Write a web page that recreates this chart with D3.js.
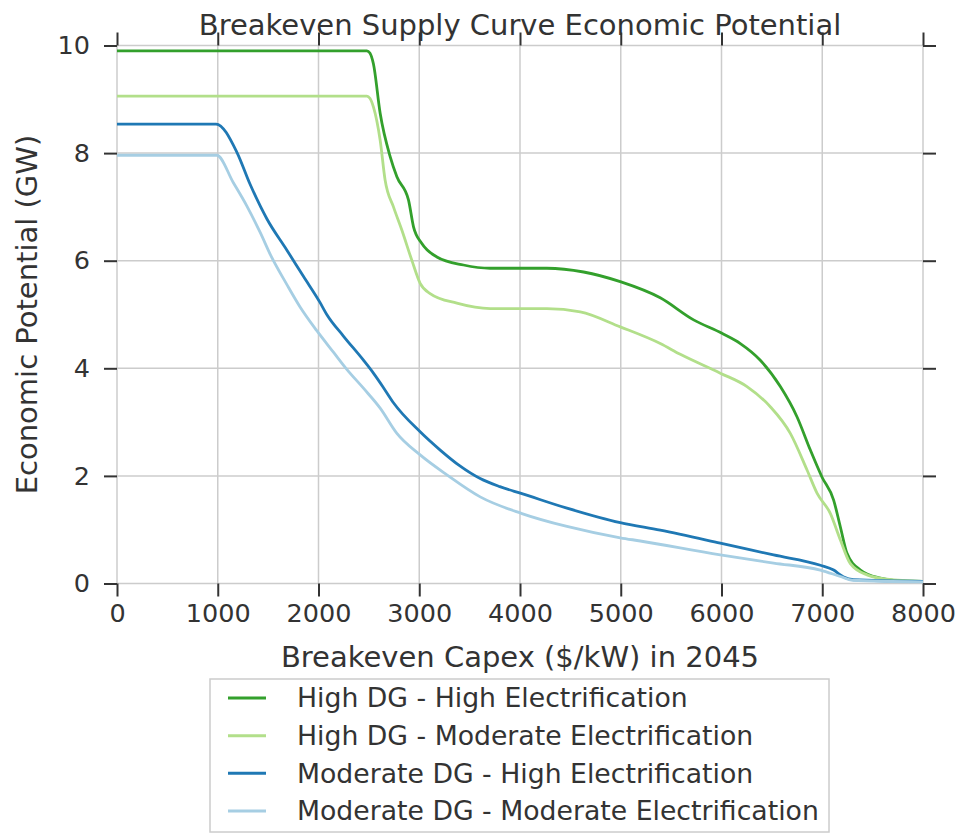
<!DOCTYPE html>
<html>
<head>
<meta charset="utf-8">
<script src="https://cdn.jsdelivr.net/npm/d3@7"></script>
<style>
  html, body { margin: 0; padding: 0; background: #fff; }
  svg { display: block; font-family: "DejaVu Sans", sans-serif; }
</style>
</head>
<body>
<svg id="chart" width="959" height="834"></svg>
<script>
// Breakeven capex ($/kW) and economic potential (GW) for each scenario
const hhCapex = [0, 2480, 2510, 2545, 2612, 2712, 2778, 2893, 2943, 3026, 3175, 3439, 3704, 4267, 4631, 4995, 5392, 5723, 6004, 6187, 6385, 6584, 6749, 6882, 6997, 7113, 7180, 7246, 7379, 7577, 7709, 8000];
const hhPotential = [9.90, 9.90, 9.86, 9.66, 8.74, 7.93, 7.56, 7.13, 6.63, 6.32, 6.07, 5.92, 5.86, 5.86, 5.79, 5.61, 5.31, 4.90, 4.65, 4.46, 4.15, 3.66, 3.10, 2.48, 1.98, 1.55, 1.05, 0.56, 0.25, 0.10, 0.06, 0.04];

const hmCapex = [0, 2480, 2510, 2545, 2612, 2661, 2744, 2827, 2926, 3009, 3108, 3373, 3704, 4267, 4598, 4995, 5392, 5591, 5988, 6253, 6482, 6683, 6849, 6948, 7081, 7180, 7279, 7445, 7643, 8000];
const hmPotential = [9.06, 9.06, 9.02, 8.86, 8.24, 7.50, 7.00, 6.57, 6.01, 5.58, 5.39, 5.21, 5.11, 5.11, 5.05, 4.77, 4.46, 4.26, 3.91, 3.66, 3.29, 2.79, 2.11, 1.68, 1.30, 0.81, 0.37, 0.16, 0.08, 0.04];

const mhCapex = [0, 983, 1189, 1321, 1487, 1685, 1850, 2016, 2082, 2247, 2446, 2545, 2645, 2744, 3009, 3208, 3400, 3605, 3800, 4019, 4466, 4995, 5392, 5988, 6517, 6981, 7113, 7180, 7213, 7312, 8000];
const mhPotential = [8.54, 8.54, 8.02, 7.42, 6.78, 6.20, 5.71, 5.22, 5.00, 4.60, 4.15, 3.91, 3.64, 3.36, 2.82, 2.48, 2.19, 1.95, 1.80, 1.67, 1.40, 1.13, 0.99, 0.75, 0.53, 0.34, 0.25, 0.16, 0.12, 0.07, 0.04];

const mmCapex = [0, 990, 1155, 1288, 1420, 1536, 1685, 1817, 1983, 2148, 2281, 2446, 2612, 2778, 3009, 3274, 3605, 4019, 4466, 4995, 5194, 5988, 6517, 6981, 7180, 7300, 8000];
const mmPotential = [7.96, 7.96, 7.45, 7.02, 6.53, 6.06, 5.56, 5.14, 4.70, 4.30, 3.98, 3.63, 3.26, 2.79, 2.39, 2.02, 1.61, 1.30, 1.06, 0.85, 0.79, 0.53, 0.38, 0.25, 0.13, 0.06, 0.03];

const seriesNames = [
  "High DG - High Electrification",
  "High DG - Moderate Electrification",
  "Moderate DG - High Electrification",
  "Moderate DG - Moderate Electrification"
];
const seriesColors = ["#33a02c", "#b2df8a", "#1f78b4", "#a6cee3"];

const xTicks = [0, 1000, 2000, 3000, 4000, 5000, 6000, 7000, 8000];
const yTicks = [0, 2, 4, 6, 8, 10];

const series = [
  { name: seriesNames[0], color: seriesColors[0], x: hhCapex, y: hhPotential },
  { name: seriesNames[1], color: seriesColors[1], x: hmCapex, y: hmPotential },
  { name: seriesNames[2], color: seriesColors[2], x: mhCapex, y: mhPotential },
  { name: seriesNames[3], color: seriesColors[3], x: mmCapex, y: mmPotential }
];

const svg = d3.select("#chart");
const plot = { left: 117, right: 923, top: 45.5, bottom: 583.5 };
const textColor = "#333333";
const gridColor = "#cccccc";
const tickLen = 13;

const x = d3.scaleLinear().domain([0, 8000]).range([plot.left, plot.right]);
const y = d3.scaleLinear().domain([0, 10]).range([plot.bottom, plot.top]);

// grid
const grid = svg.append("g");
grid.selectAll("line.v").data(xTicks).join("line")
  .attr("x1", d => x(d)).attr("x2", d => x(d))
  .attr("y1", plot.top).attr("y2", plot.bottom)
  .attr("stroke", gridColor).attr("stroke-width", 1.5);
grid.selectAll("line.h").data(yTicks).join("line")
  .attr("x1", plot.left).attr("x2", plot.right)
  .attr("y1", d => y(d)).attr("y2", d => y(d))
  .attr("stroke", gridColor).attr("stroke-width", 1.5);

// axes on all four sides, ticks pointing outward
function styleAxis(g, showLabels) {
  g.select(".domain").remove();
  g.selectAll(".tick line").attr("stroke", textColor).attr("stroke-width", 2);
  g.selectAll(".tick text")
    .attr("fill", textColor)
    .style("font-size", "25.5px")
    .style("font-family", "DejaVu Sans, sans-serif")
    .attr("display", showLabels ? null : "none");
}
svg.append("g").attr("transform", `translate(0,${plot.bottom})`)
  .call(d3.axisBottom(x).tickValues(xTicks).tickFormat(d3.format("d")).tickSize(tickLen).tickPadding(7))
  .call(g => styleAxis(g, true));
svg.append("g").attr("transform", `translate(0,${plot.top})`)
  .call(d3.axisTop(x).tickValues(xTicks).tickSize(tickLen))
  .call(g => styleAxis(g, false));
svg.append("g").attr("transform", `translate(${plot.left},0)`)
  .call(d3.axisLeft(y).tickValues(yTicks).tickFormat(d3.format("d")).tickSize(tickLen).tickPadding(14))
  .call(g => styleAxis(g, true));
svg.append("g").attr("transform", `translate(${plot.right},0)`)
  .call(d3.axisRight(y).tickValues(yTicks).tickSize(tickLen))
  .call(g => styleAxis(g, false));

// curves
const line = d3.line()
  .x(d => x(d[0]))
  .y(d => y(d[1]))
  .curve(d3.curveMonotoneX);
svg.append("g").selectAll("path").data(series).join("path")
  .attr("d", s => line(s.x.map((v, i) => [v, s.y[i]])))
  .attr("fill", "none")
  .attr("stroke", s => s.color)
  .attr("stroke-width", 2.8)
  .attr("stroke-linejoin", "round");

// titles
svg.append("text")
  .attr("x", (plot.left + plot.right) / 2).attr("y", 35)
  .attr("text-anchor", "middle").attr("fill", textColor)
  .style("font-size", "29px")
  .text("Breakeven Supply Curve Economic Potential");
svg.append("text")
  .attr("x", (plot.left + plot.right) / 2).attr("y", 667)
  .attr("text-anchor", "middle").attr("fill", textColor)
  .style("font-size", "29px")
  .text("Breakeven Capex ($/kW) in 2045");
svg.append("text")
  .attr("transform", `translate(37,${(plot.top + plot.bottom) / 2}) rotate(-90)`)
  .attr("text-anchor", "middle").attr("fill", textColor)
  .style("font-size", "29px")
  .text("Economic Potential (GW)");

// legend
const legend = svg.append("g");
legend.append("rect")
  .attr("x", 210).attr("y", 679).attr("width", 619).attr("height", 153)
  .attr("fill", "#fff").attr("stroke", gridColor).attr("stroke-width", 1.5);
const rowY = d3.scalePoint().domain(seriesNames).range([698, 811]);
const items = legend.selectAll("g.item").data(series).join("g")
  .attr("transform", s => `translate(0,${rowY(s.name)})`);
items.append("line")
  .attr("x1", 228).attr("x2", 266)
  .attr("stroke", s => s.color).attr("stroke-width", 3);
items.append("text")
  .attr("x", 297).attr("dy", "0.35em").attr("fill", textColor)
  .style("font-size", "26.7px")
  .text(s => s.name);
</script>
</body>
</html>
